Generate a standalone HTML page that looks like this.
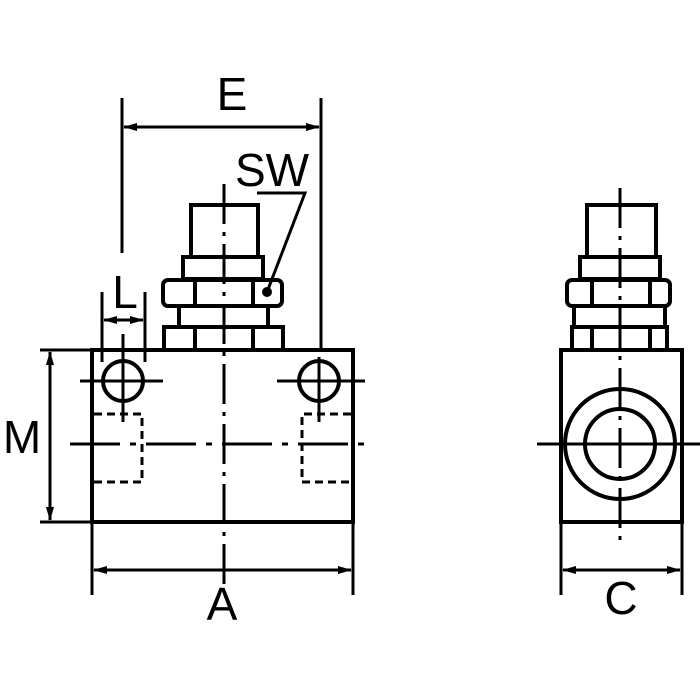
<!DOCTYPE html>
<html><head><style>body{margin:0;background:#fff}svg{display:block}text{font-family:"Liberation Sans",sans-serif;fill:#000}</style></head><body>
<svg width="700" height="700" viewBox="0 0 700 700" xmlns="http://www.w3.org/2000/svg">
<defs><marker id="a" markerWidth="14" markerHeight="8" refX="13" refY="4" orient="auto-start-reverse" markerUnits="userSpaceOnUse"><path d="M0,0 L14,4 L0,8 z" fill="#000"/></marker></defs>
<g stroke="#000" fill="none" stroke-width="4">
<!-- left body -->
<rect x="92" y="350" width="261" height="172"/>
<rect x="191" y="205" width="67" height="52"/>
<rect x="183" y="257" width="80" height="22"/>
<rect x="163" y="280" width="119" height="26" rx="5"/>
<line x1="195" y1="280" x2="195" y2="306"/><line x1="253" y1="280" x2="253" y2="306"/>
<rect x="179" y="306" width="89" height="21"/>
<rect x="164" y="327" width="119" height="23"/>
<line x1="195" y1="327" x2="195" y2="350"/><line x1="253" y1="327" x2="253" y2="350"/>
<circle cx="123" cy="381" r="20"/><circle cx="319" cy="381" r="20"/>
<!-- right body -->
<rect x="561" y="350" width="121" height="172"/>
<rect x="587" y="205" width="69" height="52"/>
<rect x="580" y="257" width="80" height="22"/>
<rect x="567" y="280" width="103" height="26" rx="5"/>
<line x1="592" y1="280" x2="592" y2="306"/><line x1="650" y1="280" x2="650" y2="306"/>
<rect x="574" y="306" width="91" height="21"/>
<rect x="572" y="327" width="95" height="23"/>
<line x1="592" y1="327" x2="592" y2="350"/><line x1="650" y1="327" x2="650" y2="350"/>
<circle cx="620" cy="444" r="55"/><circle cx="620" cy="444" r="35"/>
</g>
<g stroke="#000" fill="none" stroke-width="3">
<!-- hidden -->
<path d="M94,414 H142 V482 H94 M351,414 H302 V482 H351" stroke-dasharray="8,5"/>
<!-- center lines -->
<line x1="224" y1="184" x2="224" y2="585" stroke-dasharray="40,8,4,8"/>
<line x1="70" y1="444" x2="365" y2="444" stroke-dasharray="50,10,6,10"/>
<line x1="80" y1="381" x2="163" y2="381"/><line x1="277" y1="381" x2="365" y2="381"/>
<line x1="123" y1="334" x2="123" y2="422"/><line x1="319" y1="357" x2="319" y2="422"/>
<line x1="537" y1="444" x2="700" y2="444"/>
<line x1="620" y1="188" x2="620" y2="545" stroke-dasharray="40,8,4,8"/>
<!-- dims -->
<line x1="122" y1="98" x2="122" y2="253"/><line x1="321" y1="98" x2="321" y2="350"/>
<line x1="124" y1="127" x2="319" y2="127" marker-start="url(#a)" marker-end="url(#a)"/>
<line x1="102" y1="292" x2="102" y2="362"/><line x1="145" y1="292" x2="145" y2="362"/>
<line x1="104" y1="320" x2="143" y2="320" marker-start="url(#a)" marker-end="url(#a)"/>
<line x1="40" y1="350" x2="92" y2="350"/><line x1="40" y1="522" x2="92" y2="522"/>
<line x1="50" y1="352" x2="50" y2="520" marker-start="url(#a)" marker-end="url(#a)"/>
<line x1="92" y1="522" x2="92" y2="595"/><line x1="353" y1="522" x2="353" y2="595"/>
<line x1="94" y1="570" x2="351" y2="570" marker-start="url(#a)" marker-end="url(#a)"/>
<line x1="561" y1="522" x2="561" y2="595"/><line x1="682" y1="522" x2="682" y2="595"/>
<line x1="563" y1="570" x2="680" y2="570" marker-start="url(#a)" marker-end="url(#a)"/>
<polyline points="257,193 305,193 267,292"/>
</g>
<circle cx="267" cy="292" r="5" fill="#000"/>
<text x="232" y="110" font-size="46" text-anchor="middle">E</text>
<text x="272" y="186" font-size="46" text-anchor="middle">SW</text>
<text x="125" y="308" font-size="46" text-anchor="middle">L</text>
<text x="22" y="453" font-size="46" text-anchor="middle">M</text>
<text x="222" y="620" font-size="46" text-anchor="middle">A</text>
<text x="621" y="614" font-size="46" text-anchor="middle">C</text>
</svg>
</body></html>
